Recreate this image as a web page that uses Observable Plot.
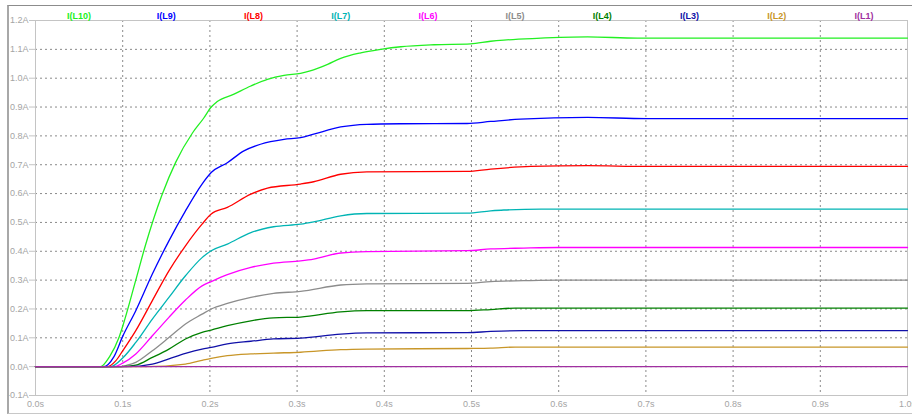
<!DOCTYPE html>
<html>
<head>
<meta charset="utf-8">
<script src="https://cdn.jsdelivr.net/npm/d3@7"></script>
<script src="https://cdn.jsdelivr.net/npm/@observablehq/plot@0.6"></script>
<style>
  html, body { margin: 0; padding: 0; background: #fff; }
  #wrap { position: relative; width: 912px; height: 415px; overflow: hidden; }
  #border { position: absolute; left: 7px; top: 5px; width: 905px; height: 407px;
            border-left: 2px solid #a8a8a8; border-top: 1px solid #8c8c8c; border-bottom: 1px solid #c8c8c8;
            pointer-events: none; }
  svg { font-family: "Liberation Sans", Arial, sans-serif; }
</style>
</head>
<body>
<div id="wrap"><div id="border"></div></div>
<script>
// Series names, colours and data (time in s, current in A)
const names  = ["I(L10)", "I(L9)", "I(L8)", "I(L7)", "I(L6)", "I(L5)", "I(L4)", "I(L3)", "I(L2)", "I(L1)"];
const colors = ["#22f022", "#0000ff", "#ff0000", "#00b4b4", "#ff00ff", "#8c8c8c", "#008000", "#1010a8", "#c89628", "#a030a0"];

const tL10 = [0, 0.0745, 0.085, 0.0956, 0.1, 0.115, 0.126, 0.145, 0.161, 0.180, 0.193, 0.2015, 0.208, 0.227, 0.247, 0.266, 0.285, 0.304, 0.315, 0.335, 0.350, 0.373, 0.396, 0.419, 0.457, 0.499, 0.522, 0.537, 0.575, 0.633, 0.690, 1.0];
const iL10 = [0, 0, 0.035, 0.10, 0.14, 0.30, 0.42, 0.595, 0.71, 0.81, 0.862, 0.900, 0.918, 0.944, 0.973, 0.996, 1.010, 1.017, 1.025, 1.048, 1.069, 1.088, 1.100, 1.109, 1.116, 1.119, 1.128, 1.132, 1.138, 1.143, 1.139, 1.139];

const tL9 = [0, 0.078, 0.09, 0.1, 0.115, 0.134, 0.153, 0.172, 0.191, 0.2015, 0.220, 0.239, 0.258, 0.285, 0.304, 0.319, 0.350, 0.380, 0.419, 0.495, 0.522, 0.556, 0.633, 0.70, 1.0];
const iL9 = [0, 0, 0.035, 0.105, 0.194, 0.321, 0.436, 0.540, 0.633, 0.673, 0.707, 0.748, 0.771, 0.788, 0.794, 0.806, 0.831, 0.840, 0.842, 0.843, 0.850, 0.858, 0.864, 0.860, 0.860];

const tL8 = [0, 0.082, 0.092, 0.1, 0.115, 0.134, 0.153, 0.172, 0.191, 0.2015, 0.220, 0.247, 0.266, 0.304, 0.319, 0.350, 0.380, 0.495, 0.522, 0.568, 0.633, 0.70, 1.0];
const iL8 = [0, 0, 0.02, 0.055, 0.125, 0.229, 0.332, 0.419, 0.494, 0.529, 0.552, 0.598, 0.619, 0.633, 0.641, 0.667, 0.675, 0.677, 0.685, 0.694, 0.697, 0.694, 0.694];

const tL7 = [0, 0.086, 0.1, 0.115, 0.134, 0.153, 0.172, 0.191, 0.2015, 0.220, 0.247, 0.273, 0.304, 0.319, 0.350, 0.380, 0.495, 0.522, 0.537, 0.58, 1.0];
const iL7 = [0, 0, 0.03, 0.084, 0.165, 0.240, 0.315, 0.378, 0.402, 0.425, 0.465, 0.485, 0.494, 0.502, 0.523, 0.531, 0.532, 0.540, 0.543, 0.546, 0.546];

const tL6 = [0, 0.090, 0.1, 0.115, 0.134, 0.153, 0.172, 0.191, 0.2015, 0.220, 0.247, 0.273, 0.304, 0.319, 0.350, 0.380, 0.495, 0.522, 0.56, 0.60, 1.0];
const iL6 = [0, 0, 0.012, 0.044, 0.107, 0.171, 0.231, 0.280, 0.295, 0.319, 0.344, 0.359, 0.367, 0.373, 0.394, 0.399, 0.402, 0.408, 0.411, 0.413, 0.413];

const tL5 = [0, 0.0955, 0.105, 0.115, 0.134, 0.153, 0.172, 0.191, 0.2015, 0.220, 0.247, 0.273, 0.304, 0.350, 0.380, 0.495, 0.522, 0.56, 0.60, 1.0];
const iL5 = [0, 0, 0.005, 0.015, 0.055, 0.101, 0.148, 0.182, 0.200, 0.219, 0.240, 0.254, 0.261, 0.283, 0.287, 0.289, 0.295, 0.298, 0.300, 0.300];

const tL4 = [0, 0.0995, 0.115, 0.134, 0.153, 0.172, 0.191, 0.2015, 0.220, 0.247, 0.273, 0.304, 0.350, 0.380, 0.495, 0.522, 0.55, 1.0];
const iL4 = [0, 0, 0.005, 0.032, 0.061, 0.096, 0.119, 0.127, 0.142, 0.159, 0.169, 0.172, 0.190, 0.194, 0.194, 0.198, 0.203, 0.203];

const tL3 = [0, 0.105, 0.134, 0.153, 0.172, 0.191, 0.2015, 0.220, 0.247, 0.273, 0.304, 0.350, 0.380, 0.495, 0.522, 0.56, 1.0];
const iL3 = [0, 0, 0.009, 0.027, 0.046, 0.061, 0.067, 0.079, 0.088, 0.096, 0.099, 0.113, 0.117, 0.118, 0.122, 0.125, 0.125];

const tL2 = [0, 0.126, 0.172, 0.1895, 0.2015, 0.220, 0.247, 0.273, 0.304, 0.350, 0.380, 0.495, 0.522, 0.55, 1.0];
const iL2 = [0, 0, 0.009, 0.021, 0.029, 0.038, 0.044, 0.047, 0.050, 0.059, 0.061, 0.063, 0.064, 0.068, 0.068];

const tL1 = [0, 1.0];
const iL1 = [0, 0];

const xTicks = [0, 0.1, 0.2, 0.3, 0.4, 0.5, 0.6, 0.7, 0.8, 0.9, 1.0];
const yTicks = [-0.1, 0, 0.1, 0.2, 0.3, 0.4, 0.5, 0.6, 0.7, 0.8, 0.9, 1.0, 1.1, 1.2];
const xGrid = [0.1, 0.2, 0.3, 0.4, 0.5, 0.6, 0.7, 0.8, 0.9];
const yGrid = [0, 0.1, 0.2, 0.3, 0.4, 0.5, 0.6, 0.7, 0.8, 0.9, 1.0, 1.1];

const seriesT = [tL10, tL9, tL8, tL7, tL6, tL5, tL4, tL3, tL2, tL1];
const seriesI = [iL10, iL9, iL8, iL7, iL6, iL5, iL4, iL3, iL2, iL1];

const rows = names.flatMap((name, k) => seriesT[k].map((t, j) => ({name, t, v: seriesI[k][j]})));
const legend = names.map((name, i) => ({name, pos: (i + 0.5) / names.length}));

const chart = Plot.plot({
  width: 912,
  height: 415,
  marginLeft: 35,
  marginRight: 5,
  marginTop: 20,
  marginBottom: 20,
  style: {background: "transparent", fontFamily: "Liberation Sans, Arial, sans-serif", fontSize: "9px"},
  x: {domain: [0, 1]},
  y: {domain: [-0.1, 1.2]},
  color: {domain: names, range: colors},
  marks: [
    Plot.gridX(xGrid, {stroke: "#8a8a8a", strokeOpacity: 1, strokeDasharray: "2,3"}),
    Plot.gridY(yGrid, {stroke: "#8a8a8a", strokeOpacity: 1, strokeDasharray: "2,3"}),
    Plot.frame({stroke: "#c4c4c4"}),
    Plot.axisY({ticks: yTicks, tickFormat: d => d.toFixed(1) + "A", tickSize: 6, tickPadding: 1,
                stroke: "#c4c4c4", fill: "#a4a4a4", label: null}),
    Plot.axisX({ticks: xTicks, tickFormat: d => d.toFixed(1) + "s", tickSize: 0, tickPadding: 5,
                fill: "#a4a4a4", label: null}),
    Plot.line(rows, {x: "t", y: "v", z: "name", stroke: "name", strokeWidth: 1.3, curve: "monotone-x"}),
    Plot.text(legend, {x: "pos", text: "name", fill: "name", frameAnchor: "top", dy: -8,
                       fontWeight: "bold", fontSize: 9})
  ]
});
document.getElementById("wrap").appendChild(chart);
</script>
</body>
</html>
